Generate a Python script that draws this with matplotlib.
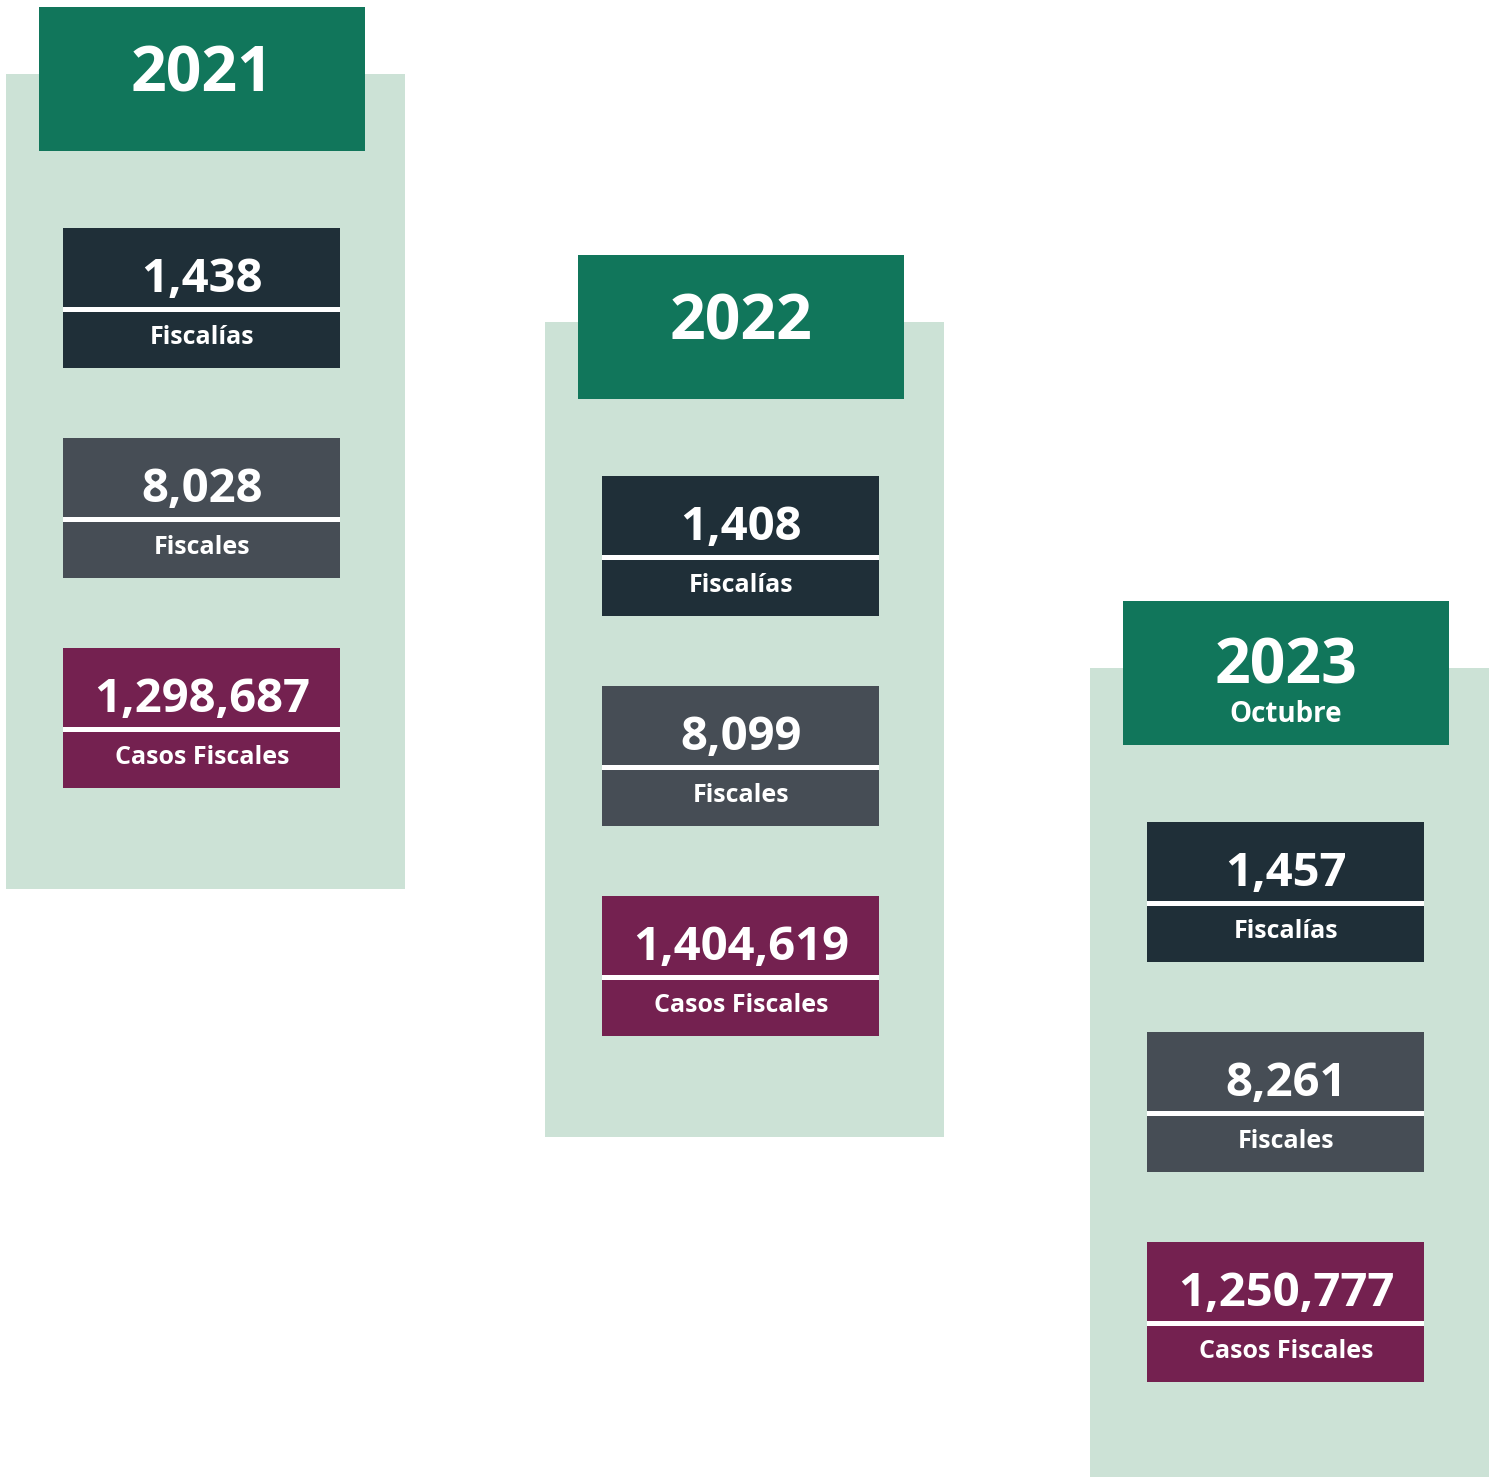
import matplotlib.pyplot as plt
from matplotlib.patches import Rectangle

# Data
years = ['2021', '2022', '2023']
subtitles = ['', '', 'Octubre']
fiscalias = [1438, 1408, 1457]
fiscales = [8028, 8099, 8261]
casos = [1298687, 1404619, 1250777]
labels = ['Fiscalías', 'Fiscales', 'Casos Fiscales']

# Styles
c_head = '#11765B'
c_panel = '#CCE2D6'
box_colors = ['#1F2F38', '#464D55', '#742150']
plt.rcParams['font.family'] = ['Open Sans', 'DejaVu Sans']

W, H = 1494, 1477
fig = plt.figure(figsize=(W / 100, H / 100), dpi=100)
ax = fig.add_axes([0, 0, 1, 1])
ax.set_xlim(0, W)
ax.set_ylim(H, 0)
ax.axis('off')

# column offsets (pixels, staircase layout)
offsets = [(0, 0), (539, 248), (1084, 594)]

def rect(x0, y0, x1, y1, color):
    ax.add_patch(Rectangle((x0, y0), x1 - x0, y1 - y0, facecolor=color,
                           edgecolor='none'))

for i, (dx, dy) in enumerate(offsets):
    # light panel
    rect(6 + dx, 74 + dy, 405 + dx, min(889 + dy, H), c_panel)
    # year header
    rect(39 + dx, 7 + dy, 365 + dx, 151 + dy, c_head)
    cx = 202 + dx
    if subtitles[i]:
        ax.text(cx, 73 + dy, years[i], color='white', fontsize=45,
                fontweight='bold', ha='center', va='center')
        ax.text(cx, 120 + dy, subtitles[i], color='white', fontsize=20,
                fontweight='bold', ha='center', va='center')
    else:
        ax.text(cx, 75 + dy, years[i], color='white', fontsize=45,
                fontweight='bold', ha='center', va='center')

    values = [fiscalias[i], fiscales[i], casos[i]]
    for j, v in enumerate(values):
        top = 228 + 210 * j + dy
        rect(63 + dx, top, 340 + dx, top + 140, box_colors[j])
        # white separator
        rect(63 + dx, top + 79, 340 + dx, top + 84, 'white')
        ax.text(cx, top + 51, f'{v:,}', color='white', fontsize=34,
                fontweight='bold', ha='center', va='center')
        ax.text(cx, top + 110, labels[j], color='white', fontsize=18,
                fontweight='bold', ha='center', va='center')

fig.savefig('out.png', dpi=100, facecolor='white')
